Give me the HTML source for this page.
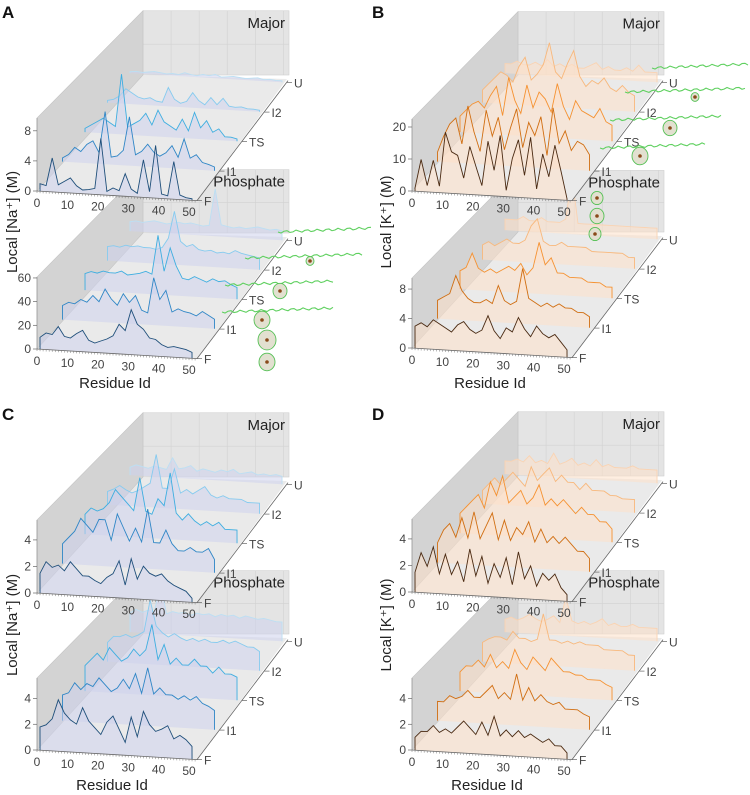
<!DOCTYPE html>
<html><head><meta charset="utf-8"><style>
html,body{margin:0;padding:0;background:#fff;}
svg{display:block;font-family:"Liberation Sans",sans-serif;}
</style></head><body>
<svg id="fig" width="750" height="795" viewBox="0 0 750 795" xmlns="http://www.w3.org/2000/svg"></svg>
<script>
const residues = [1,3,5,7,9,11,13,15,17,19,21,23,25,27,29,31,33,35,37,39,41,43,45,47,49,51];
const stateLabels = ["F","I1","TS","I2","U"];
const xTicks = [0,10,20,30,40,50];

const ticksA1 = [0,4,8];
const ticksA2 = [0,20,40,60];
const ticksB1 = [0,10,20];
const ticksB2 = [0,4,8];
const ticksC = [0,2,4];

const A1_F=[1,0.8,4.5,1,1.5,2,1,0.5,0.6,0.8,7.5,0.5,1,0.7,3,1,0.5,5,0.8,7,0.6,0.4,5,0.6,0.3,0.2];
const A1_I1=[0.5,1,2,1.5,2.5,3,1.5,7,1,1.2,2,6.5,1.5,2,3,2,1.5,2,3,1.5,4,1.5,2,1,0.8,0.5];
const A1_TS=[0.5,1,1.5,2,1.5,1,8,1,1.5,2,3,1.5,3.5,2,1.5,1,2.5,1,3.5,1.5,2.5,1,1.5,0.5,0.5,0.3];
const A1_I2=[0.3,0.5,1,2,1.5,1,0.8,1,0.6,0.5,2.5,1,0.5,0.8,2,1,0.5,1.5,0.6,1.5,0.5,0.4,0.5,0.3,0.3,0.2];
const A1_U=[0.2,0.3,0.2,0.3,0.4,0.3,0.2,0.3,0.2,0.5,0.3,0.2,0.4,0.3,0.5,0.2,0.3,0.4,0.3,0.2,0.3,0.4,0.2,0.3,0.2,0.2];

const A2_F=[10,14,13,20,12,11,15,18,10,8,10,12,15,25,20,38,26,22,15,14,10,8,9,8,7,5];
const A2_I1=[12,15,14,18,16,22,17,28,20,15,25,18,24,12,10,40,22,30,12,15,13,12,10,14,11,8];
const A2_TS=[14,16,15,17,16,16,18,15,16,17,19,17,50,20,40,25,15,14,17,15,13,16,14,15,12,10];
const A2_I2=[12,13,12,14,13,14,13,13,12,14,22,45,20,16,18,14,13,14,12,13,12,15,13,12,11,10];
const A2_U=[8,9,8,9,10,9,8,9,10,9,10,9,8,9,40,10,9,8,9,8,9,10,9,8,9,8];

const B1_F=[1,10,2,10,2,19,13,12,5,15,9,3,17,8,19,2,12,18,7,19,3,14,7,17,9,0.5];
const B1_I1=[3,8,12,14,6,18,10,4,17,9,15,5,12,18,6,14,10,16,4,19,8,12,6,9,8,5];
const B1_TS=[5,7,9,10,8,12,15,6,18,11,7,16,9,14,12,8,17,10,6,12,9,8,7,10,6,5];
const B1_I2=[4,6,8,10,9,7,12,15,8,10,13,20,11,9,14,18,10,7,9,8,10,7,6,8,6,5];
const B1_U=[3,3,4,3,3,4,3,5,3,4,3,4,3,3,4,5,3,4,3,3,4,3,5,3,3,3];

const B2_F=[3,3.5,3,4,3.5,3,2.5,3.5,4,3,2.5,3,5,3,2,3.5,3,5,3.5,2.5,4,3,2.5,3,2,1];
const B2_I1=[2.5,3,3.5,6,4,3,2.5,2.5,3,2.5,5,3,2.5,3,7.5,3.5,3,2.5,3,2.5,3,2.5,2.5,2,2,1.5];
const B2_TS=[2.5,3,5,3,2.5,3,2.5,3,3.5,3,4,2.5,3.5,7,4,5,3,3,2.5,2.5,2.5,2,2,2,1.5,1.5];
const B2_I2=[2,2.5,2,2.5,3,2.5,2.5,3,5,6,3,2.5,2.5,3,2.5,2.5,2.5,2.5,2,2,2,2,2,2,1.5,1.5];
const B2_U=[1.5,1.5,1.5,2,1.5,1.5,2,1.5,1.5,1.5,2,8,1.5,1.5,1.5,1.5,1.5,1.5,1.5,1.5,1.5,1.5,1.5,1.5,1.5,1.5];

const C1_F=[1.5,2.4,2,2.2,1.8,2.5,2,1.5,1.5,1.2,1,1.5,1.8,2.8,1,3,1.5,2.5,2,1.8,2,1.5,1.2,1,0.8,0.3];
const C1_I1=[1.5,2,2.5,3.5,3,2.5,3.5,3.5,2,4,3,2,3,2,4.5,2,2,3,2,1.5,1.5,1.8,1.5,1.5,1.8,1];
const C1_TS=[1.5,2,1.8,2,2.5,3.5,3,2.5,2,4.5,2,1.8,3,2.5,5,2,1.5,2,1.5,1.2,1.5,1.2,1.5,1,1,1];
const C1_I2=[1,1.2,1.5,1.2,1,1.2,1.5,1.8,4,1.5,1.5,3,1.2,1.5,1.2,1.5,1.8,1.2,1,1.2,1,1,1,0.8,0.8,0.8];
const C1_U=[0.6,0.8,0.7,0.6,0.8,0.7,0.6,1.5,0.7,0.8,1,0.6,0.8,0.7,0.6,0.8,0.7,0.9,0.6,0.7,0.8,0.6,0.7,0.6,0.7,0.6];

const C2_F=[1.8,2,2.5,4,3,2.5,2.2,3.5,2.5,2,1.5,2.5,3,2,1,3,1.5,3.5,2.5,2,2.2,2.5,1.5,1.8,1.5,1];
const C2_I1=[2,2.2,3,2.5,3,2.8,3.5,3,2.5,2.8,3.5,2.8,4,2.5,4.5,2.5,3,2.5,2.5,2.2,2.5,2.2,2.5,2,1.8,1.5];
const C2_TS=[2,2.5,3,2.5,3.5,3,2.5,2.8,3.5,3,3.5,5.5,2.8,4,2.5,3,2.5,2.5,3,2.5,2.5,2,2.5,2,2,1.8];
const C2_I2=[1.5,2,2,2.2,2,2.2,2.5,5,3,2.5,2.2,2.5,2.2,2,2.2,2,2.2,2,2,2.2,2,2.2,2,1.8,1.8,1.5];
const C2_U=[1.5,1.8,1.6,1.8,1.7,4,1.6,1.8,1.7,1.8,1.6,1.8,1.7,1.8,1.6,1.8,1.7,1.8,1.6,1.8,1.7,1.6,1.7,1.6,1.5,1.5];

const D1_F=[1.5,3,2,3.5,1.5,3,1.5,2.5,1,3.5,1.5,3,1,2.5,1.5,3,1,3.5,1.5,2.5,1,2,1.5,2,1,0.5];
const D1_I1=[1.5,2.5,3,2,3.5,2,4,2,3,4,2,3.5,2,3,2.5,3.5,2,3,2,2.5,2,2.5,2,1.5,1.5,1];
const D1_TS=[1.5,2,2.5,3,2,4,3,4.5,2.5,3,3.5,2.5,3,4,2.5,3,2.5,3,2.5,2,2.5,2,2,1.5,1.5,1];
const D1_I2=[1,1.5,2,1.5,2,2.5,2,1.5,3,2,2.5,3,2,2.5,2,2,1.5,2,1.5,1.5,1.5,1.2,1.2,1,1,1];
const D1_U=[1,1,1.2,1,1.5,1,1.2,1,1.8,1,1.2,1.5,1,1.2,1,1.5,1,1.2,1,1,1,1.2,1,1,1,1];

const D2_F=[1,1.5,1.5,2,1.5,1.8,1.5,2,2.5,2,1.5,2.5,1.5,3,1.5,2,1.5,2,1.5,1.8,1.5,1.2,1.5,1,1,0.5];
const D2_I1=[1.5,1.5,2,1.8,2,2.5,2,2,2.5,3,2,2.5,2,4,2,3,2,2.5,2,1.8,2,1.5,1.5,1.5,1.2,1];
const D2_TS=[1.5,2,2,2.5,2,3,2,2.5,2,3.5,2.5,2,3,2.5,2,3,2.5,2,2,1.8,1.8,1.5,1.5,1.5,1.2,1];
const D2_I2=[1.5,1.8,2,2,1.8,2.5,2,2,1.8,2,4,2,2,1.8,2,1.8,2,1.8,1.8,1.8,1.5,1.5,1.5,1.5,1.2,1.2];
const D2_U=[1,1.2,1,1.2,1.5,1.2,1,1.2,1.5,1,3,1.2,1,1.2,1,1.2,1.5,1,1.2,1,1,1.2,1,1,1,1];

const NS="http://www.w3.org/2000/svg";
const svg=document.getElementById('fig');
function mk(tag,attrs,parent,text){const e=document.createElementNS(NS,tag);for(const k in attrs)e.setAttribute(k,attrs[k]);if(text!==undefined)e.textContent=text;(parent||svg).appendChild(e);return e;}

const NA={lines:["#1f4f7a","#2f86c6","#3eaee0","#86cbef","#bcdff3"],fill:"#cdd1ec"};
const KK={lines:["#4a2a12","#d06e12","#f59232","#f8b87c","#fad3b2"],fill:"#fde0c8"};

function subplot(id,x0,y0,H,ymax,ticks,title,series,pal){
  const W=152,WF=160,slope=0.06,dx=22.5,dy=-29.5,bx=106,by=-116,Hb=H*0.88,BW=146;
  const g=mk('g',{},svg);
  
  
  const xs=r=>x0+r/50*W;
  const px=(r,k)=>xs(r)+k*dx;
  const py=(r,k,v)=>y0+(r/50*W)*slope+k*dy-v*H/ymax;
  const bw=mk('rect',{x:x0+bx,y:y0+by-Hb,width:BW,height:Hb,fill:"#e4e4e4",stroke:"#cfcfcf","stroke-width":0.6},g);
  
  for(let i=1;i<6;i++){mk('line',{x1:x0+bx+i*BW/5.2,y1:y0+by-Hb,x2:x0+bx+i*BW/5.2,y2:y0+by,stroke:"#d2d2d2","stroke-width":0.6},g);}
  mk('line',{x1:x0+bx,y1:y0+by-Hb*0.48,x2:x0+bx+BW,y2:y0+by-Hb*0.48,stroke:"#d2d2d2","stroke-width":0.6},g);
  const fl=mk('polygon',{points:`${x0},${y0} ${x0+WF},${y0+WF*slope} ${x0+WF+bx-16},${y0+by+4} ${x0+bx},${y0+by}`,fill:"#eaeaea"},g);
  
  const lw=mk('polygon',{points:`${x0},${y0} ${x0},${y0-H} ${x0+bx},${y0+by-Hb} ${x0+bx},${y0+by}`,fill:"#d3d3d3",stroke:"#c4c4c4","stroke-width":0.6},g);
  
  const tt=mk('text',{x:x0+bx+BW-4,y:y0+by-Hb+17,"text-anchor":"end","font-size":15,fill:"#222"},g,title);
  
  for(let k=4;k>=0;k--){
    const vals=series[k];
    let pts=residues.map((r,i)=>`${px(r,k).toFixed(1)},${py(r,k,vals[i]).toFixed(1)}`);
    const r0=residues[0],r1=residues[residues.length-1];
    const area=mk('polygon',{points:`${px(r0,k)},${py(r0,k,0)} ${pts.join(' ')} ${px(r1,k)},${py(r1,k,0)}`,fill:pal.fill,"fill-opacity":0.55},g);
    
    
    const ln=mk('polyline',{points:`${px(r0,k)},${py(r0,k,0)} ${pts.join(' ')} ${px(r1,k)},${py(r1,k,0)}`,fill:"none",stroke:pal.lines[k],"stroke-width":0.9},g);
    
    
  }
  mk('line',{x1:x0,y1:y0,x2:x0+WF,y2:y0+WF*slope,stroke:"#666","stroke-width":0.8},g);
  for(let r=0;r<=52;r++){mk('line',{x1:xs(r),y1:y0+(xs(r)-x0)*slope,x2:xs(r),y2:y0+(xs(r)-x0)*slope+2,stroke:"#777","stroke-width":0.5},g);}
  xTicks.forEach(t=>{const tx=mk('text',{x:xs(t),y:y0+(xs(t)-x0)*slope+16,"text-anchor":"middle","font-size":12,fill:"#444"},g,String(t));
    });
  mk('line',{x1:x0,y1:y0,x2:x0,y2:y0-H,stroke:"#888","stroke-width":0.6},g);
  ticks.forEach(t=>{const yy=y0-t*H/ymax;mk('line',{x1:x0-4,y1:yy,x2:x0,y2:yy,stroke:"#666","stroke-width":0.7},g);
    const tx=mk('text',{x:x0-6,y:yy+4,"text-anchor":"end","font-size":12,fill:"#444"},g,String(t));
    });
  const cx=x0+WF,cy=y0+WF*slope;
  mk('line',{x1:cx,y1:cy,x2:cx+4*dx+1,y2:cy+4*dy-2,stroke:"#666","stroke-width":0.8},g);
  stateLabels.forEach((s,k)=>{const ax=cx+k*dx,ay=cy+k*dy;mk('line',{x1:ax,y1:ay,x2:ax+5,y2:ay,stroke:"#666","stroke-width":0.7},g);
    const tx=mk('text',{x:ax+7,y:ay+5,"font-size":12,fill:"#444"},g,s);
    });
}

function molecule(x,y,len,blob){
  const g=mk('g',{},svg);
  
  
  let p=[];for(let i=0;i<=len;i+=3){p.push(`${x+i},${y+Math.sin(i*0.6)*1.2-(i/len)*4}`);}
  mk('polyline',{points:p.join(' '),fill:"none",stroke:"#5fd05f","stroke-width":1.1},g);
  if(blob){mk('ellipse',{cx:x+blob[0],cy:y+blob[1],rx:blob[2],ry:blob[2]*1.1,fill:"#e2e0d0",stroke:"#55c055","stroke-width":0.9},g);
    mk('circle',{cx:x+blob[0],cy:y+blob[1],r:1.8,fill:"#8a4a1a"},g);}
}

subplot('a-phosphate',37,349,72,60.8,ticksA2,'Phosphate',[A2_F,A2_I1,A2_TS,A2_I2,A2_U],NA);
subplot('a-major',37,191,73,9.7,ticksA1,'Major',[A1_F,A1_I1,A1_TS,A1_I2,A1_U],NA);
subplot('b-phosphate',412,348,70,9.5,ticksB2,'Phosphate',[B2_F,B2_I1,B2_TS,B2_I2,B2_U],KK);
subplot('b-major',412,191,72,22.5,ticksB1,'Major',[B1_F,B1_I1,B1_TS,B1_I2,B1_U],KK);
subplot('c-phosphate',37,750,72,5.6,ticksC,'Phosphate',[C2_F,C2_I1,C2_TS,C2_I2,C2_U],NA);
subplot('c-major',37,593,73,5.5,ticksC,'Major',[C1_F,C1_I1,C1_TS,C1_I2,C1_U],NA);
subplot('d-phosphate',412,750,72,5.6,ticksC,'Phosphate',[D2_F,D2_I1,D2_TS,D2_I2,D2_U],KK);
subplot('d-major',412,592,73,5.5,ticksC,'Major',[D1_F,D1_I1,D1_TS,D1_I2,D1_U],KK);

molecule(278,232,95,null);
molecule(245,258,118,[65,3,4]);
molecule(225,285,110,[55,6,7]);
molecule(222,312,112,[40,8,8]);
molecule(255,340,0,[12,0,9]);
molecule(255,362,0,[12,0,8]);
molecule(652,68,96,null);
molecule(625,92,122,[70,5,4]);
molecule(610,120,112,[60,8,7]);
molecule(600,148,105,[40,8,8]);
molecule(585,198,0,[12,0,6]);
molecule(585,216,0,[12,0,7]);
molecule(585,234,0,[10,0,6]);

[['A',2,18],['B',372,18],['C',2,420],['D',372,420]].forEach(l=>{
  const t=mk('text',{x:l[1],y:l[2],"font-size":17,"font-weight":"bold",fill:"#111"},svg,l[0]);
  
  
});
[['Local [Na⁺] (M)',12,222],['Local [K⁺] (M)',386,222],['Local [Na⁺] (M)',12,625],['Local [K⁺] (M)',386,625]].forEach(a=>{
  const t=mk('text',{x:a[1],y:a[2],"font-size":15,fill:"#222","text-anchor":"middle",transform:`rotate(-90 ${a[1]} ${a[2]})`,dy:5},svg,a[0]);
  
  
});
[[115,388],[490,388],[112,790],[487,790]].forEach(a=>{
  const t=mk('text',{x:a[0],y:a[1],"font-size":15,fill:"#222","text-anchor":"middle"},svg,'Residue Id');
  
  
});
</script>
</body></html>
